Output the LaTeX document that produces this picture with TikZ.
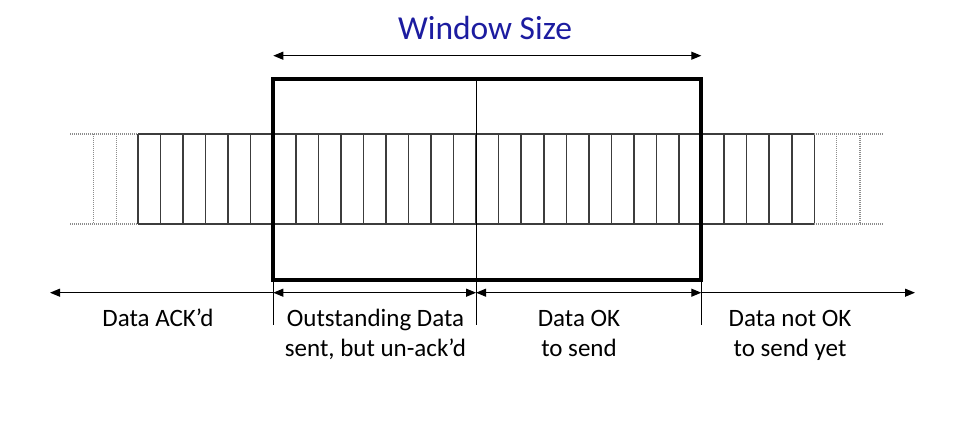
\documentclass[tikz,border=0pt]{standalone}
\usepackage{fontspec}
\setmainfont{Carlito}
\usetikzlibrary{arrows.meta}
\definecolor{winblue}{RGB}{28,28,160}
\definecolor{cellgray}{RGB}{60,60,60}
\definecolor{dotgray}{RGB}{140,140,140}
\tikzset{
  cellline/.style={draw=cellgray,line width=1.5pt},
  dotline/.style={draw=dotgray,line width=1.2pt,dash pattern=on 1pt off 1pt},
  winbox/.style={draw=black,line width=4pt},
  thinline/.style={draw=black,line width=1pt},
  dimarrow/.style={draw=black,line width=1.1pt,arrows={Triangle[length=10pt,width=8pt]-Triangle[length=10pt,width=8pt]}},
  larrow/.style={draw=black,line width=1.1pt,arrows={-Triangle[length=10pt,width=8pt]}},
  label/.style={font=\fontsize{25}{30.7}\selectfont,align=center,anchor=base,inner sep=0pt},
  title/.style={font=\fontsize{33.5}{40}\selectfont,text=winblue,anchor=base,inner sep=0pt}
}
\begin{document}
\begin{tikzpicture}[x=1pt,y=1pt]
\useasboundingbox (0,0) rectangle (975,-425);
% strip
\def\cw{22.543}
\draw[cellline] (138,-134) -- (814.3,-134);
\draw[cellline] (138,-224) -- (814.3,-224);
\foreach \i in {0,...,30} {
  \draw[cellline] ({138+\i*\cw},-134) -- ({138+\i*\cw},-224);
}
% dotted continuations
\draw[dotline] (70,-134) -- (138,-134);
\draw[dotline] (70,-224) -- (138,-224);
\draw[dotline] (814.3,-134) -- (882.7,-134);
\draw[dotline] (814.3,-224) -- (882.7,-224);
\foreach \x in {93.3,116.7,836.7,860} {
  \draw[dotline] (\x,-134) -- (\x,-224);
}
% window box
\coordinate (wtl) at (273.3,-78.7);
\coordinate (wbr) at (701.3,-280);
\coordinate (mtop) at (476.1,-78.7);
\coordinate (mbot) at (476.1,-325);
\coordinate (ltick) at (273.3,-325);
\coordinate (rtick) at (701.3,-325);
\coordinate (lbot) at (273.3,-280);
\coordinate (rbot) at (701.3,-280);
\draw[thinline] (mtop) -- (mbot);
\draw[thinline] (lbot) -- (ltick);
\draw[thinline] (rbot) -- (rtick);
\draw[winbox] (wtl) rectangle (wbr);
% window size arrow
\coordinate (wsl) at (273.3,-55.7);
\coordinate (wsr) at (701.3,-55.7);
\draw[dimarrow] (wsl) -- (wsr);
\node[title] (ws) at (485,-40) {Window Size};
% bottom arrows
\coordinate (a0) at (50,-292.7);
\coordinate (a1) at (273.3,-292.7);
\coordinate (a2) at (476.1,-292.7);
\coordinate (a3) at (701.3,-292.7);
\coordinate (a4) at (915,-292.7);
\draw[larrow] (a1) -- (a0);
\draw[dimarrow] (a1) -- (a2);
\draw[dimarrow] (a2) -- (a3);
\draw[larrow] (a3) -- (a4);
% labels (base = last line)
\node[label] (ack) at (158,-326) {Data ACK’d};
\node[label] (out) at (375.5,-356.7) {Outstanding Data\\sent, but un-ack’d};
\node[label] (ok) at (579,-356.7) {Data OK\\to send};
\node[label] (notok) at (790,-356.7) {Data not OK\\to send yet};
\end{tikzpicture}
\end{document}
